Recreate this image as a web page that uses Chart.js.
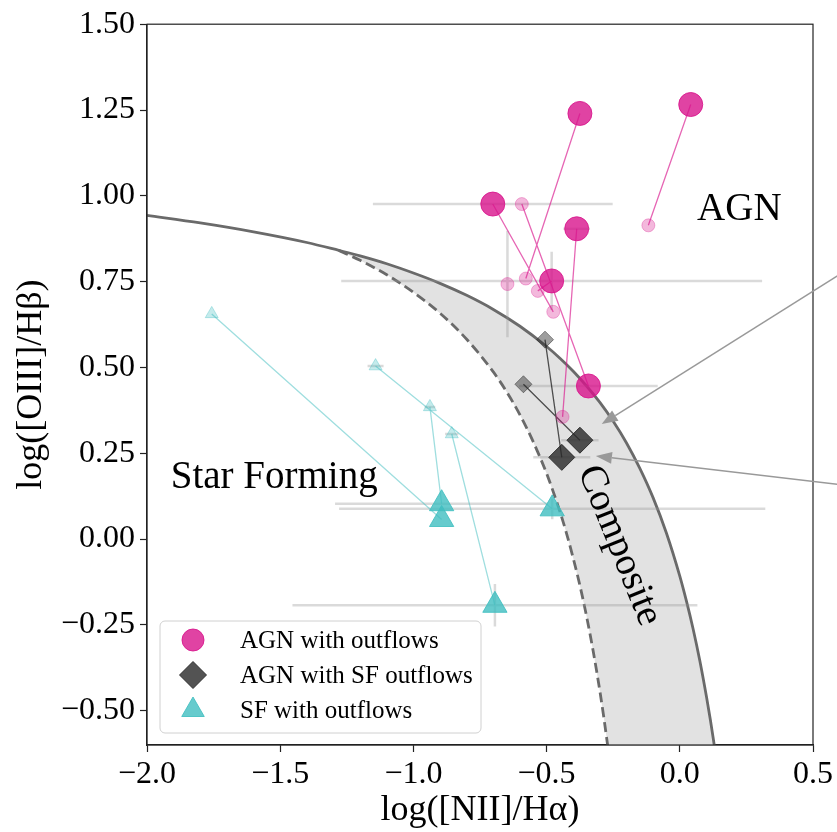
<!DOCTYPE html>
<html>
<head>
<meta charset="utf-8">
<title>BPT diagram</title>
<script src="https://cdn.jsdelivr.net/npm/chart.js@4.4.1/dist/chart.umd.min.js"></script>
<style>
  html, body { margin: 0; padding: 0; background: #fff; }
  canvas { display: block; }
</style>
</head>
<body>
<canvas id="bpt" width="837" height="832"></canvas>
<script>
const SERIF = "'Liberation Serif', 'Times New Roman', serif";

const xTicks = [-2.0, -1.5, -1.0, -0.5, 0.0, 0.5];
const yTicks = [-0.5, -0.25, 0.0, 0.25, 0.5, 0.75, 1.0, 1.25, 1.5];

// solid demarcation line (Kewley)
const kewleyX = [-2.0, -1.8, -1.6, -1.4, -1.28, -1.2, -1.1, -1.0, -0.9, -0.8, -0.7, -0.6, -0.5, -0.45, -0.4,
  -0.35, -0.3, -0.25, -0.2, -0.15, -0.1, -0.05, 0.0, 0.025, 0.05, 0.075, 0.1, 0.115, 0.13];
const kewleyY = [0.943, 0.921, 0.895, 0.864, 0.841, 0.825, 0.802, 0.775, 0.745, 0.710, 0.669, 0.620, 0.561, 0.527, 0.489,
  0.446, 0.398, 0.343, 0.280, 0.206, 0.120, 0.017, -0.108, -0.181, -0.262, -0.354, -0.459, -0.528, -0.604];
// dashed demarcation line (Kauffmann)
const kauffX = [-1.28, -1.2, -1.1, -1.0, -0.9, -0.8, -0.7, -0.65, -0.6, -0.55, -0.5, -0.45, -0.425, -0.4,
  -0.375, -0.35, -0.325, -0.3, -0.285, -0.27];
const kauffY = [0.841, 0.812, 0.770, 0.719, 0.658, 0.582, 0.487, 0.429, 0.362, 0.283, 0.191, 0.080, 0.016, -0.056,
  -0.135, -0.225, -0.327, -0.443, -0.521, -0.606];

// AGN with outflows (big markers) and their faint partners, same index = linked
const agnX = [-0.375, 0.041, -0.702, -0.387, -0.481, -0.343];
const agnY = [1.240, 1.266, 0.976, 0.904, 0.752, 0.446];
const agnXerr = [0, 0, 0.45, 0.05, 0.79, 0.26];
const agnYerr = [0, 0, 0, 0, 0.085, 0];
const agnFaintX = [-0.578, -0.118, -0.475, -0.440, -0.533, -0.593, -0.647];
const agnFaintY = [0.759, 0.914, 0.662, 0.356, 0.723, 0.976, 0.743];
const agnFaintXerr = [0, 0, 0, 0, 0, 0, 0];
const agnFaintYerr = [0, 0, 0, 0, 0, 0, 0.155];

// AGN with SF outflows
const compX = [-0.443, -0.375];
const compY = [0.238, 0.288];
const compXerr = [0.107, 0.07];
const compYerr = [0, 0];
const compFaintX = [-0.506, -0.587];
const compFaintY = [0.581, 0.451];

// SF with outflows
const sfX = [-0.894, -0.894, -0.479, -0.694];
const sfY = [0.057, 0.103, 0.088, -0.193];
const sfXerr = [0, 0.40, 0.80, 0.76];
const sfYerr = [0, 0, 0.03, 0.062];
const sfFaintX = [-1.757, -0.938, -1.142, -0.856];
const sfFaintY = [0.656, 0.385, 0.504, 0.306];
const sfFaintXerr = [0, 0.02, 0.03, 0.025];
const sfFaintYerr = [0, 0, 0, 0];

const magenta = (a) => `rgba(216, 20, 140, ${a})`;
const grey = (a) => `rgba(40, 40, 40, ${a})`;
const cyan = (a) => `rgba(64, 190, 192, ${a})`;

const fmt = (v, d) => (v < -1e-9 ? '\u2212' : '') + Math.abs(v).toFixed(d);
const xy = (xs, ys) => xs.map((x, i) => ({ x: x, y: ys[i] }));
const GAP = { x: null, y: null };

function pairLines(ax, ay, bx, by) {
  const pts = [];
  for (let i = 0; i < Math.min(ax.length, bx.length); i++) {
    pts.push({ x: ax[i], y: ay[i] }, { x: bx[i], y: by[i] }, GAP);
  }
  return pts;
}

function errBars(xs, ys, xe, ye) {
  const pts = [];
  xs.forEach((x, i) => {
    if (xe[i]) pts.push({ x: x - xe[i], y: ys[i] }, { x: x + xe[i], y: ys[i] }, GAP);
    if (ye[i]) pts.push({ x: x, y: ys[i] - ye[i] }, { x: x, y: ys[i] + ye[i] }, GAP);
  });
  return pts;
}

// closed outline of the composite band: solid line down, dashed line back up
const compositeRegion = [
  ...xy(kewleyX, kewleyY).filter((p) => p.x >= kauffX[0]),
  ...xy(kauffX, kauffY).reverse(),
];

const lineDefaults = { showLine: true, fill: false, pointRadius: 0, pointHoverRadius: 0 };

const datasets = [
  { ...lineDefaults, label: 'composite', data: compositeRegion, fill: 'shape',
    backgroundColor: '#e2e2e2', borderWidth: 0, order: 30 },
  { ...lineDefaults, label: 'kewley', data: xy(kewleyX, kewleyY), borderColor: '#6a6a6a',
    borderWidth: 2.8, cubicInterpolationMode: 'monotone', order: 25 },
  { ...lineDefaults, label: 'kauffmann', data: xy(kauffX, kauffY), borderColor: '#6a6a6a',
    borderWidth: 2.8, borderDash: [10, 5], cubicInterpolationMode: 'monotone', order: 25 },
  { ...lineDefaults, label: 'errors', borderColor: 'rgba(150, 150, 150, 0.35)', borderWidth: 2.5, order: 20,
    data: [
      ...errBars(agnX, agnY, agnXerr, agnYerr),
      ...errBars(agnFaintX, agnFaintY, agnFaintXerr, agnFaintYerr),
      ...errBars(compX, compY, compXerr, compYerr),
      ...errBars(sfX, sfY, sfXerr, sfYerr),
      ...errBars(sfFaintX, sfFaintY, sfFaintXerr, sfFaintYerr),
    ] },
  { ...lineDefaults, label: 'agn links', data: pairLines(agnFaintX, agnFaintY, agnX, agnY),
    borderColor: magenta(0.65), borderWidth: 1.3, order: 15 },
  { ...lineDefaults, label: 'comp links', data: pairLines(compFaintX, compFaintY, compX, compY),
    borderColor: grey(0.8), borderWidth: 1.3, order: 15 },
  { ...lineDefaults, label: 'sf links', data: pairLines(sfFaintX, sfFaintY, sfX, sfY),
    borderColor: cyan(0.5), borderWidth: 1.3, order: 15 },
  { label: 'agn faint', data: xy(agnFaintX, agnFaintY), pointStyle: 'circle', pointRadius: 6.5,
    backgroundColor: magenta(0.3), borderColor: magenta(0.3), borderWidth: 1, order: 10 },
  { label: 'comp faint', data: xy(compFaintX, compFaintY), pointStyle: 'rectRot', pointRadius: 8.5,
    backgroundColor: grey(0.45), borderColor: grey(0.5), borderWidth: 1, order: 10 },
  { label: 'sf faint', data: xy(sfFaintX, sfFaintY), pointStyle: 'triangle', pointRadius: 7.5,
    backgroundColor: cyan(0.3), borderColor: cyan(0.35), borderWidth: 1, order: 10 },
  { label: 'SF with outflows', data: xy(sfX, sfY), pointStyle: 'triangle', pointRadius: 14,
    backgroundColor: cyan(0.8), borderColor: cyan(0.85), borderWidth: 1, order: 3 },
  { label: 'AGN with SF outflows', data: xy(compX, compY), pointStyle: 'rectRot', pointRadius: 13,
    backgroundColor: grey(0.8), borderColor: grey(0.9), borderWidth: 1, order: 2 },
  { label: 'AGN with outflows', data: xy(agnX, agnY), pointStyle: 'circle', pointRadius: 12,
    backgroundColor: magenta(0.8), borderColor: magenta(0.85), borderWidth: 1, order: 1 },
];

const legendRows = [
  { text: 'AGN with outflows', style: 'circle', radius: 11, fill: magenta(0.8), edge: magenta(0.85) },
  { text: 'AGN with SF outflows', style: 'rectRot', radius: 13.5, fill: grey(0.8), edge: grey(0.9) },
  { text: 'SF with outflows', style: 'triangle', radius: 13, fill: cyan(0.8), edge: cyan(0.85) },
];

// region names, arrows, full frame and the legend
const annotations = {
  id: 'annotations',
  afterDatasetsDraw(chart) {
    const { ctx, chartArea: a, scales: { x, y } } = chart;
    ctx.save();

    ctx.strokeStyle = '#222';
    ctx.lineWidth = 1.2;
    ctx.strokeRect(a.left, a.top, a.right - a.left, a.bottom - a.top);

    ctx.fillStyle = '#000';
    ctx.font = `39px ${SERIF}`;
    ctx.textAlign = 'left';
    ctx.textBaseline = 'alphabetic';
    ctx.fillText('AGN', x.getPixelForValue(0.065), y.getPixelForValue(0.929));
    ctx.fillText('Star Forming', x.getPixelForValue(-1.911), y.getPixelForValue(0.148));
    ctx.save();
    ctx.translate(x.getPixelForValue(-0.228), y.getPixelForValue(-0.019));
    ctx.rotate(68 * Math.PI / 180);
    ctx.textAlign = 'center';
    ctx.textBaseline = 'middle';
    ctx.fillText('Composite', 0, 0);
    ctx.restore();

    // arrows coming in from labels outside the axes
    const arrows = [
      { from: [0.60, 0.771], to: [-0.293, 0.335] },
      { from: [0.60, 0.159], to: [-0.315, 0.242] },
    ];
    ctx.strokeStyle = '#999';
    ctx.fillStyle = '#999';
    ctx.lineWidth = 1.5;
    arrows.forEach((ar) => {
      const x0 = x.getPixelForValue(ar.from[0]), y0 = y.getPixelForValue(ar.from[1]);
      const x1 = x.getPixelForValue(ar.to[0]), y1 = y.getPixelForValue(ar.to[1]);
      const ang = Math.atan2(y1 - y0, x1 - x0);
      const hl = 16, hw = 6;
      const bx = x1 - hl * Math.cos(ang), by = y1 - hl * Math.sin(ang);
      ctx.beginPath();
      ctx.moveTo(x0, y0);
      ctx.lineTo(bx, by);
      ctx.stroke();
      ctx.beginPath();
      ctx.moveTo(x1, y1);
      ctx.lineTo(bx + hw * Math.sin(ang), by - hw * Math.cos(ang));
      ctx.lineTo(bx - hw * Math.sin(ang), by + hw * Math.cos(ang));
      ctx.closePath();
      ctx.fill();
    });

    // legend box, lower left inside the axes
    const lx = a.left + 13, ly = a.bottom - 124, lw = 321, lh = 112;
    ctx.beginPath();
    ctx.roundRect(lx, ly, lw, lh, 5);
    ctx.fillStyle = 'rgba(255, 255, 255, 0.8)';
    ctx.fill();
    ctx.strokeStyle = '#d0d0d0';
    ctx.lineWidth = 1;
    ctx.stroke();
    ctx.font = `25px ${SERIF}`;
    ctx.textAlign = 'left';
    ctx.textBaseline = 'middle';
    legendRows.forEach((row, i) => {
      const ry = ly + 19 + i * 35;
      ctx.fillStyle = row.fill;
      ctx.strokeStyle = row.edge;
      ctx.lineWidth = 1;
      Chart.helpers.drawPoint(ctx, { pointStyle: row.style, radius: row.radius, rotation: 0, borderWidth: 1 },
        lx + 33, ry);
      ctx.fillStyle = '#000';
      ctx.fillText(row.text, lx + 80, ry + 1);
    });

    ctx.restore();
  },
};

const tickFont = { family: SERIF, size: 32 };
const titleFont = { family: SERIF, size: 36 };

new Chart(document.getElementById('bpt'), {
  type: 'scatter',
  data: { datasets: datasets },
  options: {
    responsive: false,
    animation: false,
    events: [],
    layout: { padding: { top: 22, right: 24, bottom: 0, left: 0 } },
    plugins: {
      legend: { display: false },
      tooltip: { enabled: false },
    },
    scales: {
      x: {
        type: 'linear',
        min: -2.0,
        max: 0.5,
        afterBuildTicks: (s) => { s.ticks = xTicks.map((v) => ({ value: v })); },
        afterFit: (s) => { s.height = 87; },
        ticks: { font: tickFont, color: '#000', padding: 3, maxRotation: 0, autoSkip: false,
          callback: (v) => fmt(v, 1) },
        grid: { drawOnChartArea: false, drawTicks: true, tickLength: 7, tickColor: '#222', tickWidth: 1.2 },
        border: { display: true, color: '#222', width: 1.2 },
        title: { display: true, text: 'log([NII]/H\u03b1)', font: titleFont, color: '#000',
          padding: { top: 0, bottom: 0 } },
      },
      y: {
        type: 'linear',
        min: -0.6,
        max: 1.5,
        afterBuildTicks: (s) => { s.ticks = yTicks.map((v) => ({ value: v })); },
        afterFit: (s) => { s.width = 147; },
        ticks: { font: tickFont, color: '#000', padding: 5, autoSkip: false,
          callback: (v) => fmt(v, 2) },
        grid: { drawOnChartArea: false, drawTicks: true, tickLength: 7, tickColor: '#222', tickWidth: 1.2 },
        border: { display: true, color: '#222', width: 1.2 },
        title: { display: true, text: 'log([OIII]/H\u03b2)', font: titleFont, color: '#000',
          padding: { top: 10, bottom: 0 } },
      },
    },
  },
  plugins: [annotations],
});
</script>
</body>
</html>
